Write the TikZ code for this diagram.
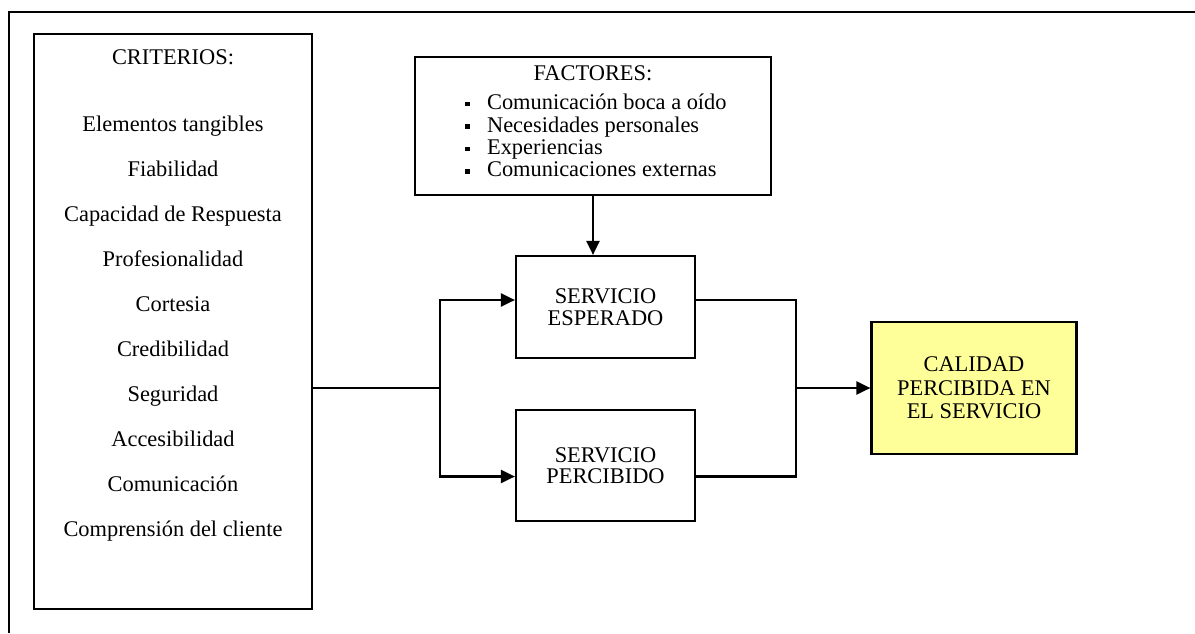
\documentclass[tikz,border=0pt]{standalone}
\usepackage{fontspec}
\setmainfont{Liberation Serif}
\usetikzlibrary{positioning,arrows.meta}
\definecolor{calidadfill}{RGB}{255,255,153}
\newcommand{\cuadro}{\makebox[11pt][l]{\raisebox{1.6pt}{\rule{2.3pt}{2.3pt}}}}

\begin{document}
\begin{tikzpicture}[x=0.5pt,y=-0.5pt,line width=1.1pt,
  box/.style={draw, inner sep=0pt},
  txt/.style={align=center, inner sep=0pt, font=\fontsize{11.2}{10.8}\selectfont},
  flecha/.style={-{Triangle[length=7pt,width=6.5pt]}}]
\useasboundingbox (0,0) rectangle (1195,633);
% marco
\draw (9,633) -- (9,12) -- (1195,12);

% criterios
\node[box, minimum width=139pt, minimum height=287.5pt] (criterios) at (173,321.5) {};
\node[txt, font=\fontsize{11.2}{22.5}\selectfont, below=8pt of criterios.north] (critlist)
  {CRITERIOS:\\[11pt]
   Elementos tangibles\\ Fiabilidad\\ Capacidad de Respuesta\\ Profesionalidad\\ Cortesia\\
   Credibilidad\\ Seguridad\\ Accesibilidad\\ Comunicación\\ Comprensión del cliente};

% factores
\node[box, minimum width=178pt, minimum height=69pt] (factores) at (593,126) {};
\node[txt, below=4.5pt of factores.north] (facttit) {FACTORES:};
\node[txt, align=left, font=\fontsize{11.2}{11.2}\selectfont, anchor=north west] (factlist) at (464,93)
  {\cuadro Comunicación boca a oído\\ \cuadro Necesidades personales\\
   \cuadro Experiencias\\ \cuadro Comunicaciones externas};

% servicios
\node[box, txt, minimum width=89.5pt, minimum height=51pt] (esperado) at (605.5,307) {SERVICIO\\ESPERADO};
\node[box, txt, minimum width=89.5pt, minimum height=55.5pt] (percibido) at (605.5,465.5) {SERVICIO\\PERCIBIDO};
\node[box, txt, fill=calidadfill, font=\fontsize{11.2}{11.8}\selectfont,
  minimum width=102.5pt, minimum height=66pt] (calidad) at (974,388) {CALIDAD\\PERCIBIDA EN\\EL SERVICIO};

% conexiones
\coordinate (bif) at (440,388);
\coordinate (union) at (796,388);
\draw (criterios.east |- bif) -- (bif);
\draw[flecha] (bif) |- ([yshift=3.5pt]esperado.west);
\draw[flecha] (bif) |- ([yshift=-5.5pt]percibido.west);
\draw[flecha] (factores.south) -- (factores.south |- esperado.north);
\draw ([yshift=3.5pt]esperado.east) -| (union);
\draw ([yshift=-5.5pt]percibido.east) -| (union);
\draw[flecha] (union) -- (calidad.west);
\end{tikzpicture}
\end{document}
